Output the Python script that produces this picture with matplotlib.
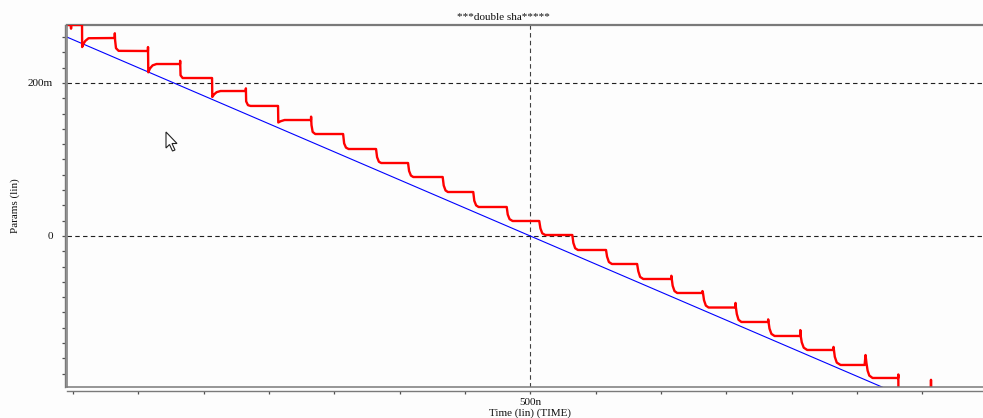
import matplotlib
matplotlib.use("Agg")
import matplotlib.pyplot as plt
from matplotlib.ticker import MultipleLocator, FixedLocator, FixedFormatter
from matplotlib.patches import Polygon

# ---- text ----
title = "***double sha*****"
x_label = "Time (lin) (TIME)"
y_label = "Params (lin)"

# ---- axes (time in ns, value in m) ----
x_range = (145.5, 846.5)
y_range = (-197.4, 275.8)
x_major = [500]
x_major_labels = ["500n"]
y_major = [0, 200]
y_major_labels = ["0", "200m"]
x_minor_step = 50
y_minor_step = 20

# ---- ramp input (blue) ----
ramp_t = [145.5, 800.0]
ramp_v = [260.0, -220.0]

# ---- staircase output (red) ----
out_t = [
    145.0, 148.3, 148.6, 148.9, 157.0,
    157.1, 158.0, 159.5, 162.0, 182.0,
    182.1, 182.3, 183.0, 185.0, 207.4,
    207.5, 207.7, 209.0, 211.0, 214.0, 232.0,
    232.1, 232.4, 234.0, 256.5,
    256.7, 258.0, 260.0, 263.0, 282.3,
    282.4, 282.6, 284.0, 286.0, 307.0,
    307.2, 309.0, 312.0, 332.2,
    332.3, 332.6, 333.5, 335.5, 356.8,
    357.6, 359.0, 361.0, 382.0,
    382.8, 384.2, 386.0, 406.5,
    407.3, 408.7, 410.5, 433.0,
    433.8, 435.2, 437.0, 456.4,
    457.2, 458.6, 460.5, 482.0,
    482.8, 484.2, 486.5, 506.9,
    507.8, 509.2, 511.5, 532.2,
    533.0, 534.4, 536.5, 558.0,
    558.8, 560.2, 562.5, 581.8,
    582.7, 584.1, 586.5, 607.9,
    608.0, 608.3, 609.0, 610.4, 612.5, 631.6,
    631.8, 632.2, 633.0, 634.4, 636.5, 657.0,
    657.1, 657.4, 658.1, 659.4, 661.6, 682.0,
    682.1, 682.4, 683.1, 684.6, 687.0, 706.6,
    706.7, 707.0, 707.8, 709.3, 712.0, 732.0,
    732.1, 732.4, 733.1, 734.6, 737.5, 755.9,
    756.6, 757.3, 758.2, 759.5, 762.0, 781.6,
    781.7, 781.9, 806.5, 806.7, 806.9, 846.5,
]
out_v = [
    275.8, 275.8, 271, 275.8, 275.8,
    247, 251, 255, 258.5, 258.8,
    265, 256, 245.5, 242, 241.8,
    247, 214, 219, 223, 224.8, 224.8,
    229, 210, 206.5, 206.5,
    181.7, 185, 188, 189.5, 189.5,
    193, 176, 171, 170, 170,
    148.4, 150, 151.6, 151.6,
    156, 145, 136, 133.3, 133.3,
    121, 115.5, 113.7, 113.7,
    103, 97, 95.4, 95.4,
    85, 79, 77.1, 77.1,
    66, 59.5, 57.5, 57.5,
    46, 40, 37.9, 37.9,
    28, 22, 19.6, 19.6,
    10, 3.5, 1.3, 1.3,
    -9, -16, -18.3, -18.3,
    -27, -34, -36.6, -36.6,
    -46, -53.5, -56.2, -56.2,
    -52, -56.2, -65, -72, -74.5, -74.5,
    -72, -74.5, -84, -91, -93.5, -93.5,
    -87.5, -93.5, -102, -109.5, -112.4, -112.4,
    -109, -112.4, -121, -128, -130.7, -130.7,
    -123, -130.7, -139, -146, -149, -149,
    -145, -149, -158, -165.5, -168.6, -168.6,
    -155.6, -166, -176, -182.5, -185.6, -185.6,
    -181, -240, -240, -188, -240, -240,
]
assert len(out_t) == len(out_v)

W, H = 983, 418
FRAME = "#7a7a7a"
SERIF = ["Liberation Serif", "DejaVu Serif"]

fig = plt.figure(figsize=(W / 100, H / 100), dpi=100)
fig.patch.set_facecolor("#fdfdfd")
ax = fig.add_axes([67 / W, 31 / H, 916 / W, 362 / H])
ax.set_facecolor("#fdfdfd")

ax.set_xlim(*x_range)
ax.set_ylim(*y_range)

# dashed grid at the labelled positions
for xv in x_major:
    ax.axvline(xv, color="#404040", lw=0.8, dashes=(4, 3), zorder=1)
for yv in y_major:
    ax.axhline(yv, color="#202020", lw=0.8, dashes=(4, 3), zorder=1)

ax.plot(ramp_t, ramp_v, color="#0000ff", lw=0.8, zorder=3)
ax.plot(out_t, out_v, color="#ff0000", lw=1.7, zorder=4)

# plot frame
for xs, ys in (([0, 0], [0, 1]), ([0, 1], [0, 0])):
    ax.plot(xs, ys, transform=ax.transAxes, color=FRAME, lw=1.1,
            clip_on=False, zorder=5)

# axes lines, slightly detached from the frame
ax.spines["right"].set_visible(False)
ax.spines["top"].set_color(FRAME)
ax.spines["top"].set_linewidth(1.6)
ax.spines["top"].set_zorder(3.5)
ax.spines["left"].set_position(("outward", 1.6))
ax.spines["bottom"].set_position(("outward", 2.9))
for s in ("left", "bottom"):
    ax.spines[s].set_color(FRAME)
    ax.spines[s].set_linewidth(1.0)

ax.xaxis.set_major_locator(FixedLocator(x_major))
ax.xaxis.set_major_formatter(FixedFormatter(x_major_labels))
ax.xaxis.set_minor_locator(MultipleLocator(x_minor_step))
ax.yaxis.set_major_locator(FixedLocator(y_major))
ax.yaxis.set_major_formatter(FixedFormatter(y_major_labels))
ax.yaxis.set_minor_locator(MultipleLocator(y_minor_step))

ax.tick_params(axis="both", which="both", direction="out", length=2.0,
               width=0.9, color="#505050")
ax.tick_params(axis="x", which="major", pad=3.0)
ax.tick_params(axis="y", which="major", pad=6.5)
for lab in ax.get_xticklabels() + ax.get_yticklabels():
    lab.set_fontfamily(SERIF)
    lab.set_fontsize(8)
    lab.set_color("#111111")

fig.text(503 / W, 1 - 17 / H, title, ha="center", va="center",
         fontsize=8, family=SERIF, color="#111111")
fig.text(530 / W, 1 - 408.5 / H, x_label, ha="center", va="top",
         fontsize=8, family=SERIF, color="#111111")
fig.text(15 / W, 1 - 206 / H, y_label, ha="center", va="center",
         rotation=90, fontsize=8, family=SERIF, color="#111111")

# pointer arrow
arrow_px = [(166, 132), (166, 148), (169.5, 144.5), (172.5, 151),
            (175, 150), (172, 143.5), (177, 143.5)]
fig.patches.append(Polygon([(x / W, 1 - y / H) for x, y in arrow_px],
                           closed=True, facecolor="white", edgecolor="#222222",
                           lw=0.8, transform=fig.transFigure, figure=fig))

fig.savefig("out.png", dpi=100, facecolor=fig.get_facecolor())
